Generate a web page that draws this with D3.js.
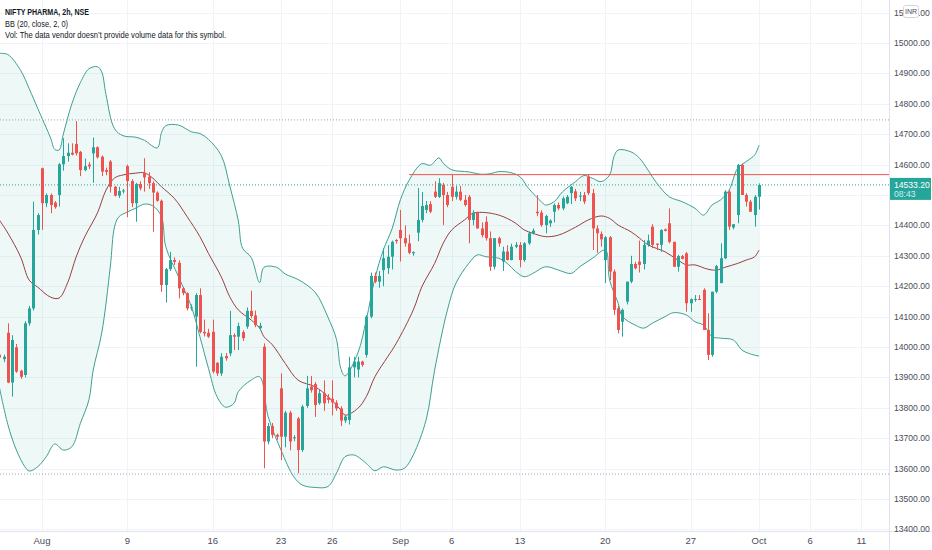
<!DOCTYPE html>
<html>
<head>
<meta charset="utf-8">
<title>NIFTY PHARMA 2h</title>
<script src="https://d3js.org/d3.v7.min.js"></script>
<style>
  body { margin: 0; background: #fff; }
  text { font-family: "Liberation Sans", "Noto Sans", sans-serif; }
</style>
</head>
<body>
<div id="chart"></div>
<script>
// 2h candles, 29 Jul .. 1 Oct (index 0 = first visible bar)
var opens = [13975,13960,14047,13883,13999,13922,13908,14078,14127,14385,
  14588,14473,14500,14475,14500,14601,14628,14639,14668,14642,
  14582,14600,14637,14657,14626,14582,14610,14527,14498,14512,
  14595,14546,14473,14536,14573,14560,14539,14508,14481,14204,
  14256,14286,14277,14193,14177,14128,14100,14171,14050,14047,
  14050,13948,13913,13970,13979,14039,14034,14049,14067,14119,
  14104,14062,14001,13689,13740,13711,13864,13705,13784,13700,
  13765,13661,13806,13870,13878,13815,13848,13834,13830,13817,
  13798,13758,13760,13933,13926,13952,13974,14100,14234,14215,
  14253,14259,14297,14352,14385,14358,14341,14308,14376,14418,
  14451,14470,14511,14494,14533,14500,14527,14494,14511,14484,
  14494,14418,14442,14390,14412,14358,14264,14358,14281,14314,
  14286,14330,14336,14286,14341,14374,14445,14442,14401,14407,
  14445,14467,14456,14473,14506,14512,14495,14500,14560,14506,
  14390,14372,14286,14361,14248,14127,14083,14149,14215,14273,
  14281,14273,14336,14396,14340,14336,14387,14407,14346,14264,
  14299,14308,14144,14155,14158,14188,14056,13974,14182,14210,
  14292,14511,14393,14434,14599,14500,14478,14434,14494];
var highs = [14010,13975,14078,14039,14010,13925,14085,14135,14478,14440,
  14590,14505,14505,14480,14605,14687,14670,14670,14743,14645,
  14620,14608,14689,14660,14630,14590,14615,14530,14527,14520,
  14600,14552,14540,14545,14621,14575,14545,14512,14485,14260,
  14313,14295,14285,14198,14180,14140,14177,14193,14090,14060,
  14090,13950,13980,13980,14119,14045,14080,14055,14130,14185,
  14120,14080,14012,13750,13750,13715,13913,13790,13790,13710,
  13770,13810,13905,13905,13885,13860,13890,13845,13890,13825,
  13805,13775,13968,13968,13968,13955,14105,14245,14245,14250,
  14325,14335,14350,14355,14451,14400,14370,14315,14523,14510,
  14480,14480,14545,14555,14540,14510,14566,14530,14530,14500,
  14500,14450,14445,14410,14430,14380,14358,14363,14330,14335,
  14340,14345,14345,14345,14380,14390,14500,14450,14435,14420,
  14472,14475,14495,14500,14530,14520,14510,14510,14566,14520,
  14400,14380,14365,14365,14255,14135,14127,14215,14300,14280,
  14350,14352,14370,14404,14341,14387,14390,14456,14346,14303,
  14303,14313,14160,14171,14171,14193,14111,14182,14270,14341,
  14516,14516,14404,14602,14602,14506,14484,14500,14538];
var lows = [13890,13950,13881,13837,13915,13895,13900,14070,14120,14370,
  14385,14460,14440,14455,14462,14580,14610,14630,14630,14562,
  14578,14585,14540,14620,14562,14565,14508,14495,14490,14505,
  14427,14460,14412,14515,14511,14520,14379,14478,14182,14146,
  14250,14270,14160,14170,14120,14120,13935,14045,14035,14030,
  13913,13905,13905,13955,13970,13990,13990,14020,14060,14095,
  14065,14055,13601,13680,13700,13695,13628,13670,13660,13690,
  13585,13655,13800,13850,13770,13810,13790,13815,13775,13790,
  13740,13750,13745,13900,13900,13935,13965,14095,14210,14195,
  14200,14240,14255,14340,14281,14330,14305,14300,14348,14410,
  14440,14440,14490,14490,14401,14460,14480,14485,14480,14462,
  14341,14400,14390,14360,14350,14250,14255,14330,14250,14285,
  14285,14325,14262,14280,14336,14370,14430,14395,14374,14395,
  14410,14450,14450,14470,14470,14480,14480,14470,14500,14319,
  14310,14330,14210,14220,14105,14045,14034,14140,14210,14255,
  14245,14255,14330,14325,14319,14313,14380,14341,14264,14248,
  14288,14116,14116,14149,14155,14056,13957,13968,14177,14210,
  14289,14385,14387,14407,14500,14462,14445,14396,14452];
var closes = [13965,13968,13883,14023,13919,13902,14078,14127,14385,14434,
  14473,14500,14467,14460,14601,14628,14639,14633,14637,14582,
  14595,14594,14657,14624,14577,14576,14527,14498,14513,14515,
  14546,14473,14536,14522,14558,14539,14508,14481,14204,14256,
  14286,14280,14193,14177,14127,14131,14171,14050,14045,14034,
  13919,13913,13968,13963,14039,14034,14069,14029,14119,14102,
  14072,14070,13689,13740,13711,13705,13705,13784,13689,13703,
  13661,13804,13864,13858,13809,13848,13815,13826,13818,13798,
  13758,13771,13933,13952,13952,13941,14100,14234,14215,14234,
  14292,14297,14346,14348,14358,14341,14310,14312,14418,14464,
  14467,14445,14494,14539,14500,14467,14494,14511,14484,14467,
  14418,14442,14390,14368,14358,14264,14358,14341,14314,14286,
  14330,14336,14286,14341,14374,14383,14440,14401,14431,14416,
  14467,14456,14489,14494,14527,14489,14498,14478,14506,14390,
  14374,14354,14361,14248,14122,14056,14122,14215,14273,14259,
  14270,14336,14350,14336,14336,14385,14382,14346,14264,14299,
  14290,14144,14157,14158,14155,14056,13974,14182,14266,14292,
  14511,14396,14404,14599,14500,14478,14445,14494,14533.2];

// Bollinger Bands (20, close, 2): [bar index, price]
var bbUpper = [[0,14966],[2,14962],[5,14910],[7,14850],[9,14785],[12,14688],[13,14650],[14,14648],
  [15,14700],[17,14800],[19,14870],[21,14915],[23,14922],[24,14905],[25,14830],[27,14718],
  [29,14695],[32,14690],[34,14680],[37,14655],[38,14705],[39,14728],[42,14730],[45,14708],
  [47,14702],[49,14683],[52,14630],[54,14530],[56,14415],[57,14325],[59,14295],[61,14212],
  [62,14262],[65,14262],[67,14240],[70,14222],[74,14180],[77,14098],[79,14025],[80,13930],
  [81,13905],[84,13980],[86,14090],[88,14225],[90,14320],[92,14388],[94,14485],[96,14548],
  [99,14603],[101,14598],[103,14622],[104,14605],[106,14583],[110,14576],[113,14568],[115,14570],
  [117,14577],[120,14573],[122,14560],[124,14522],[127,14478],[128,14467],[130,14478],[132,14511],
  [135,14544],[137,14564],[139,14555],[141,14544],[143,14566],[144,14626],[145,14648],[148,14642],
  [150,14621],[152,14582],[154,14540],[157,14494],[160,14478],[163,14456],[165,14434],[167,14467],
  [169,14484],[171,14516],[173,14588],[175,14610],[177,14632],[178,14664]];
var bbBasis = [[0,14418],[2,14375],[5,14296],[7,14220],[9,14197],[12,14164],[14,14161],[16,14211],
  [18,14296],[20,14362],[23,14441],[25,14516],[27,14556],[29,14566],[32,14572],[34,14573],
  [36,14555],[38,14527],[41,14489],[44,14429],[47,14363],[49,14308],[52,14231],[54,14165],
  [56,14122],[59,14089],[61,14062],[62,14034],[64,14007],[67,13946],[70,13891],[74,13869],
  [77,13837],[80,13793],[81,13776],[84,13798],[86,13837],[88,13902],[91,13968],[93,14012],
  [97,14122],[99,14198],[102,14275],[104,14341],[106,14385],[109,14418],[111,14440],[114,14442],
  [117,14434],[119,14423],[121,14407],[123,14385],[125,14374],[128,14363],[131,14368],[135,14394],
  [138,14418],[141,14431],[143,14423],[145,14401],[148,14379],[150,14358],[152,14336],[156,14313],
  [159,14286],[161,14270],[163,14270],[166,14256],[168,14253],[170,14262],[173,14275],[175,14286],
  [177,14297],[178,14319]];
var bbLower = [[0,13869],[2,13745],[4,13661],[6,13606],[7,13592],[9,13606],[11,13639],[13,13681],
  [15,13661],[17,13672],[19,13749],[21,13826],[22,13924],[24,14046],[26,14263],[27,14395],
  [28,14428],[30,14444],[32,14457],[34,14470],[36,14464],[38,14429],[39,14330],[42,14231],
  [45,14133],[47,14034],[49,13930],[51,13837],[53,13802],[55,13815],[56,13853],[59,13891],
  [61,13902],[63,13771],[66,13661],[69,13573],[71,13546],[74,13538],[77,13541],[79,13585],
  [81,13639],[83,13645],[84,13639],[86,13617],[88,13593],[90,13606],[93,13595],[95,13602],
  [97,13645],[100,13760],[102,13924],[105,14122],[107,14210],[110,14275],[112,14303],[114,14297],
  [117,14292],[119,14275],[121,14248],[123,14231],[125,14242],[128,14264],[131,14253],[134,14242],
  [136,14264],[139,14292],[142,14319],[143,14220],[145,14144],[146,14100],[149,14072],[151,14062],
  [153,14078],[156,14100],[158,14113],[161,14105],[163,14083],[165,14072],[167,14034],[169,14029],
  [172,14023],[174,13990],[176,13977],[178,13970]];

// drawn lines
var resistance = 14567, resistanceFrom = 96;
var rangeHigh = 14747, rangeLow = 13582;
var lastPrice = 14533.20, countdown = "08:43";

// axes
var xTickIdx = [10, 30, 50, 66, 78, 94, 106, 122, 142, 162, 178, 190, 202];
var xTickLbl = ["Aug", "9", "16", "23", "26", "Sep", "6", "13", "20", "27", "Oct", "6", "11"];
var yTicks = d3.range(13400, 15101, 100);

var W = 932, H = 550, plotR = 889, plotB = 531;

var svg = d3.select("#chart").append("svg")
  .attr("width", W).attr("height", H);
svg.append("rect").attr("width", W).attr("height", H).attr("fill", "#fff");

var x = d3.scaleLinear().domain([0, 178]).range([-0.7, 759]);
var y = d3.scaleLinear().domain([13400, 15000]).range([529.4, 43]);

svg.append("clipPath").attr("id", "plot")
  .append("rect").attr("width", plotR).attr("height", plotB);
var g = svg.append("g").attr("clip-path", "url(#plot)");

// grid
g.selectAll(".hg").data(yTicks).enter().append("line")
  .attr("x1", 0).attr("x2", plotR)
  .attr("y1", function(d) { return Math.round(y(d)) + 0.5; })
  .attr("y2", function(d) { return Math.round(y(d)) + 0.5; })
  .attr("stroke", "#f0f3fa");
g.selectAll(".vg").data(xTickIdx).enter().append("line")
  .attr("y1", 0).attr("y2", plotB)
  .attr("x1", function(d) { return Math.round(x(d)) + 0.5; })
  .attr("x2", function(d) { return Math.round(x(d)) + 0.5; })
  .attr("stroke", "#f0f3fa");

// bollinger bands
var bbLine = d3.line()
  .x(function(d) { return x(d[0]); })
  .y(function(d) { return y(d[1]); })
  .curve(d3.curveCatmullRom.alpha(0.5));
var upPath = bbLine(bbUpper);
var loPath = bbLine(bbLower.slice().reverse());
g.append("path").attr("d", upPath + "L" + loPath.slice(1) + "Z")
  .attr("fill", "rgba(38,166,154,0.08)");
g.append("path").attr("d", upPath).attr("fill", "none")
  .attr("stroke", "#3e9f90").attr("stroke-width", 1);
g.append("path").attr("d", bbLine(bbLower)).attr("fill", "none")
  .attr("stroke", "#3e9f90").attr("stroke-width", 1);
g.append("path").attr("d", bbLine(bbBasis)).attr("fill", "none")
  .attr("stroke", "#9a3f42").attr("stroke-width", 1);

// dotted horizontal lines
[rangeHigh, rangeLow].forEach(function(v) {
  g.append("line").attr("x1", 0).attr("x2", plotR)
    .attr("y1", y(v)).attr("y2", y(v))
    .attr("stroke", "#9aa3ad").attr("stroke-dasharray", "1,2");
});
g.append("line").attr("x1", 0).attr("x2", plotR)
  .attr("y1", y(lastPrice)).attr("y2", y(lastPrice))
  .attr("stroke", "#26a69a").attr("stroke-dasharray", "1,2");

// resistance ray
g.append("line").attr("x1", x(resistanceFrom)).attr("x2", plotR)
  .attr("y1", y(resistance)).attr("y2", y(resistance))
  .attr("stroke", "#ef5350").attr("stroke-width", 1);

// candles
var up = "#26a69a", down = "#ef5350";
var bars = g.append("g").selectAll("g").data(opens).enter().append("g");
bars.append("line")
  .attr("x1", function(d, i) { return Math.round(x(i)) + 0.5; })
  .attr("x2", function(d, i) { return Math.round(x(i)) + 0.5; })
  .attr("y1", function(d, i) { return y(highs[i]); })
  .attr("y2", function(d, i) { return y(lows[i]); })
  .attr("stroke", function(d, i) { return closes[i] >= opens[i] ? up : down; });
bars.append("rect")
  .attr("x", function(d, i) { return Math.round(x(i)) - 1; })
  .attr("width", 3)
  .attr("y", function(d, i) { return y(Math.max(opens[i], closes[i])); })
  .attr("height", function(d, i) { return Math.max(1, Math.abs(y(opens[i]) - y(closes[i]))); })
  .attr("fill", function(d, i) { return closes[i] >= opens[i] ? up : down; });

// axes borders
svg.append("line").attr("x1", plotR + 0.5).attr("x2", plotR + 0.5)
  .attr("y1", 0).attr("y2", H).attr("stroke", "#e0e3eb");
svg.append("line").attr("x1", 0).attr("x2", W)
  .attr("y1", plotB + 0.5).attr("y2", plotB + 0.5).attr("stroke", "#e0e3eb");

// price axis (labels hidden under the last-price box are skipped)
var fmt = d3.format(".2f");
var ly = y(lastPrice);
svg.selectAll(".yl")
  .data(yTicks.filter(function(d) { return Math.abs(y(d) - (ly + 4)) > 14; }))
  .enter().append("text")
  .attr("x", 894).attr("y", function(d) { return y(d) + 3; })
  .attr("font-size", 8.6).attr("fill", "#4a4d57")
  .text(function(d) { return fmt(d); });

// currency badge
svg.append("rect").attr("x", 903.5).attr("y", 5.5).attr("width", 15).attr("height", 12)
  .attr("rx", 2).attr("fill", "#fff").attr("stroke", "#d1d4dc");
svg.append("text").attr("x", 911).attr("y", 14).attr("text-anchor", "middle")
  .attr("font-size", 7).attr("fill", "#4a4d57").text("INR");

// last price label
svg.append("rect").attr("x", plotR + 1).attr("y", ly - 7).attr("width", 41).attr("height", 22)
  .attr("fill", "#26a69a");
svg.append("text").attr("x", 894).attr("y", ly + 3)
  .attr("font-size", 8.6).attr("fill", "#fff")
  .text(fmt(lastPrice));
svg.append("text").attr("x", 894).attr("y", ly + 12)
  .attr("font-size", 8.6).attr("fill", "#cdeeea").text(countdown);

// time axis
svg.selectAll(".xl").data(xTickIdx).enter().append("text")
  .attr("x", function(d) { return x(d); }).attr("y", 544)
  .attr("text-anchor", "middle").attr("font-size", 9.5).attr("fill", "#4a4d57")
  .text(function(d, i) { return xTickLbl[i]; });

// legend
svg.append("text").attr("x", 5).attr("y", 15).attr("font-size", 9.5)
  .attr("font-weight", "bold").attr("fill", "#131722")
  .attr("textLength", 84).attr("lengthAdjust", "spacingAndGlyphs")
  .text("NIFTY PHARMA, 2h, NSE");
svg.append("text").attr("x", 5).attr("y", 27).attr("font-size", 9.5)
  .attr("fill", "#131722")
  .attr("textLength", 63).attr("lengthAdjust", "spacingAndGlyphs")
  .text("BB (20, close, 2, 0)");
svg.append("text").attr("x", 5).attr("y", 38).attr("font-size", 9.5)
  .attr("fill", "#131722")
  .attr("textLength", 221).attr("lengthAdjust", "spacingAndGlyphs")
  .text("Vol: The data vendor doesn\u2019t provide volume data for this symbol.");
</script>
</body>
</html>
